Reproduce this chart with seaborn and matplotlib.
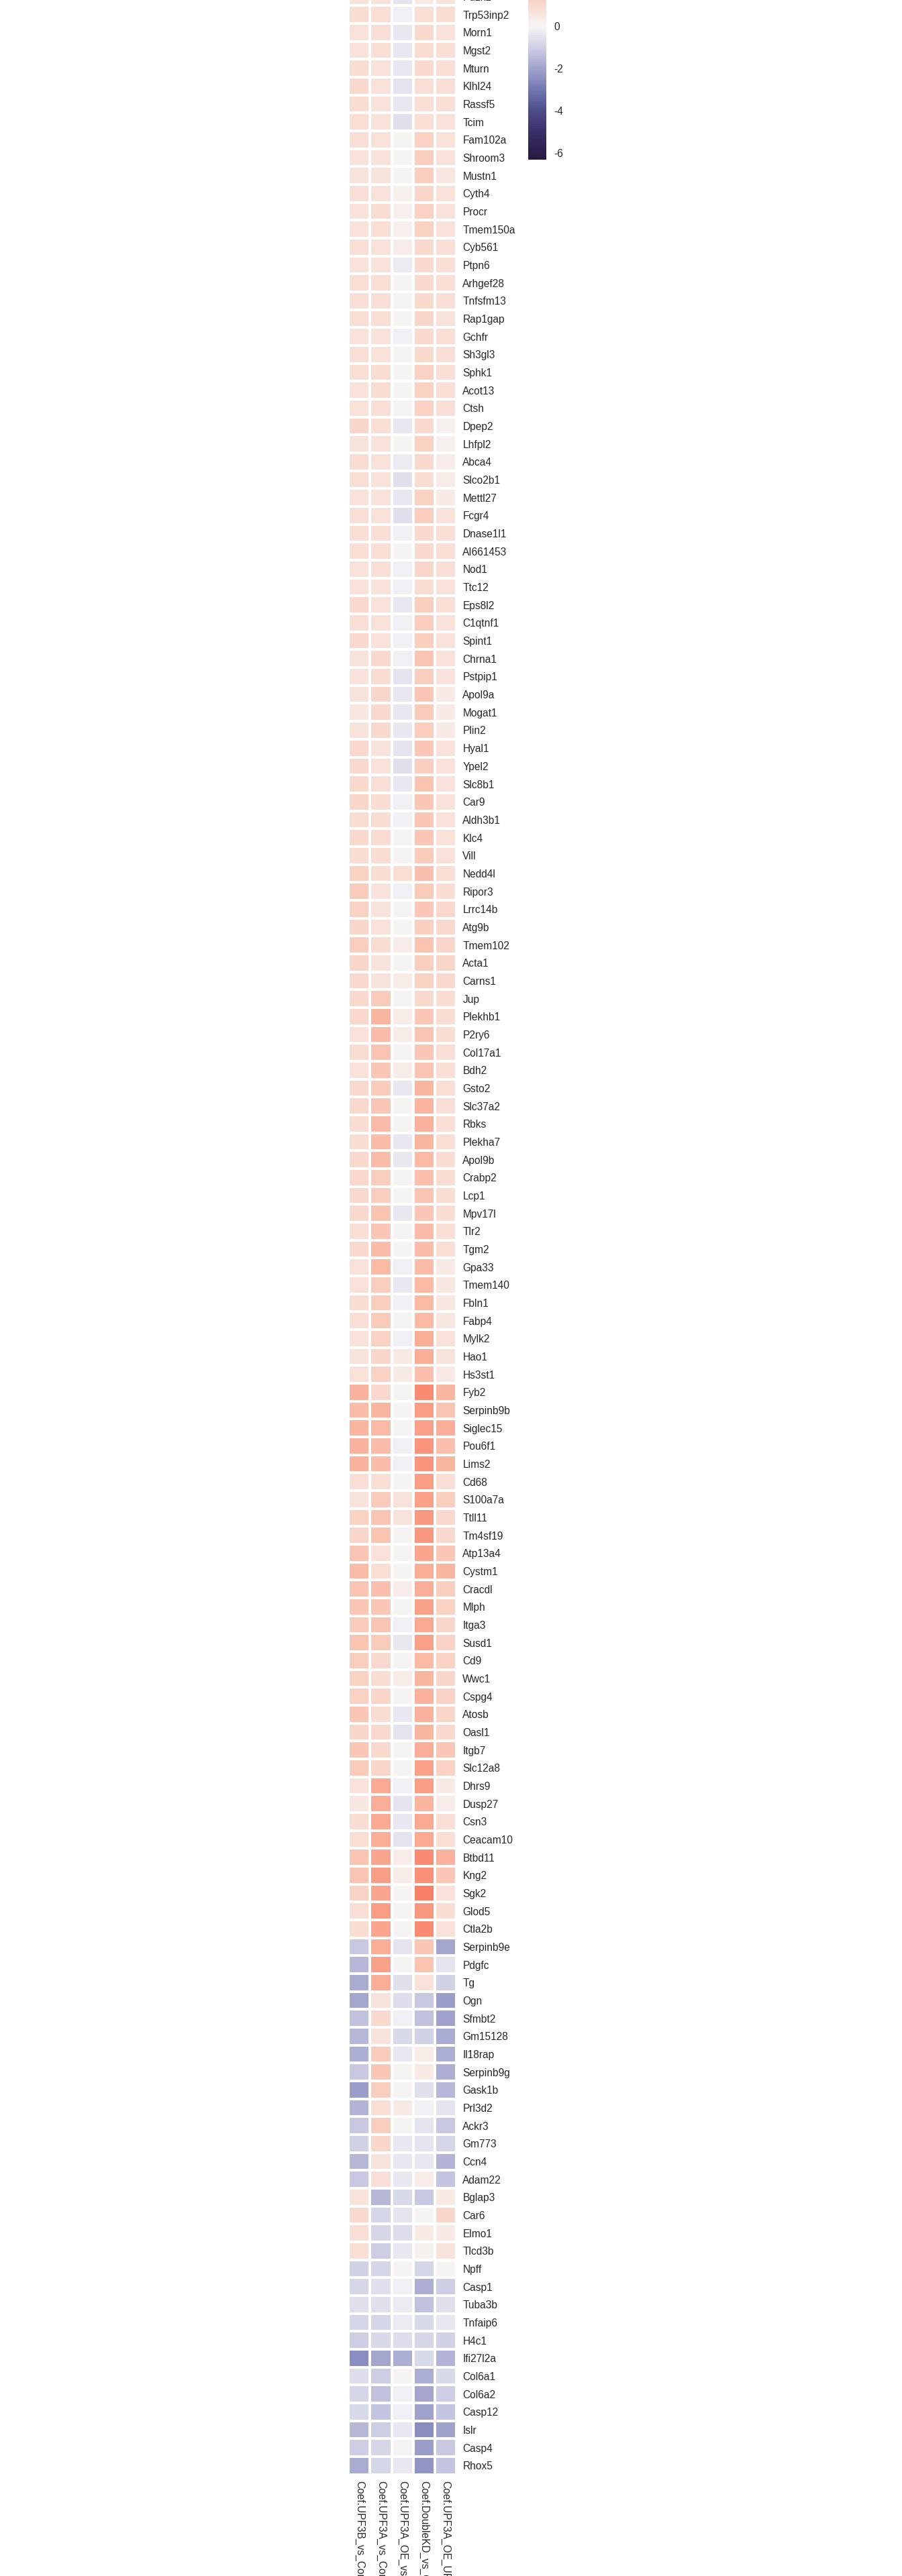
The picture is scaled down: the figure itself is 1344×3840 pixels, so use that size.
import numpy as np
import pandas as pd
import matplotlib
matplotlib.use("Agg")
import matplotlib.pyplot as plt
import seaborn as sns
from matplotlib.colors import LinearSegmentedColormap, ListedColormap

genes = [
    "Pdzk1", "Trp53inp2", "Morn1", "Mgst2", "Mturn", "Klhl24", "Rassf5", "Tcim", "Fam102a", "Shroom3",
    "Mustn1", "Cyth4", "Procr", "Tmem150a", "Cyb561", "Ptpn6", "Arhgef28", "Tnfsfm13", "Rap1gap", "Gchfr",
    "Sh3gl3", "Sphk1", "Acot13", "Ctsh", "Dpep2", "Lhfpl2", "Abca4", "Slco2b1", "Mettl27", "Fcgr4",
    "Dnase1l1", "AI661453", "Nod1", "Ttc12", "Eps8l2", "C1qtnf1", "Spint1", "Chrna1", "Pstpip1", "Apol9a",
    "Mogat1", "Plin2", "Hyal1", "Ypel2", "Slc8b1", "Car9", "Aldh3b1", "Klc4", "Vill", "Nedd4l",
    "Ripor3", "Lrrc14b", "Atg9b", "Tmem102", "Acta1", "Carns1", "Jup", "Plekhb1", "P2ry6", "Col17a1",
    "Bdh2", "Gsto2", "Slc37a2", "Rbks", "Plekha7", "Apol9b", "Crabp2", "Lcp1", "Mpv17l", "Tlr2",
    "Tgm2", "Gpa33", "Tmem140", "Fbln1", "Fabp4", "Mylk2", "Hao1", "Hs3st1", "Fyb2", "Serpinb9b",
    "Siglec15", "Pou6f1", "Lims2", "Cd68", "S100a7a", "Ttll11", "Tm4sf19", "Atp13a4", "Cystm1", "Cracdl",
    "Mlph", "Itga3", "Susd1", "Cd9", "Wwc1", "Cspg4", "Atosb", "Oasl1", "Itgb7", "Slc12a8",
    "Dhrs9", "Dusp27", "Csn3", "Ceacam10", "Btbd11", "Kng2", "Sgk2", "Glod5", "Ctla2b", "Serpinb9e",
    "Pdgfc", "Tg", "Ogn", "Sfmbt2", "Gm15128", "Il18rap", "Serpinb9g", "Gask1b", "Prl3d2", "Ackr3",
    "Gm773", "Ccn4", "Adam22", "Bglap3", "Car6", "Elmo1", "Tlcd3b", "Npff", "Casp1", "Tuba3b",
    "Tnfaip6", "H4c1", "Ifi27l2a", "Col6a1", "Col6a2", "Casp12", "Islr", "Casp4", "Rhox5",
]

conditions = [
    "Coef.UPF3B_vs_Control",
    "Coef.UPF3A_vs_Control",
    "Coef.UPF3A_OE_vs_Control",
    "Coef.DoubleKD_vs_Control",
    "Coef.UPF3A_OE_UPF3B_KD_vs_Control",
]

upf3b_vs_ctrl = [
    0.7, 0.9, 0.7, 0.7, 0.9, 1.0, 0.9, 0.8, 0.8, 0.7,
    0.6, 0.8, 0.7, 0.7, 0.8, 0.7, 0.8, 0.8, 0.8, 0.7,
    0.8, 0.8, 0.7, 0.7, 1.1, 0.6, 0.9, 0.8, 0.7, 0.8,
    0.8, 0.8, 0.7, 0.7, 1.0, 0.8, 1.0, 0.6, 0.6, 0.6,
    0.5, 0.6, 1.0, 1.0, 1.0, 1.1, 0.9, 1.0, 0.9, 1.2,
    1.4, 1.2, 1.1, 1.3, 1.1, 1.0, 1.0, 1.0, 0.7, 0.9,
    0.7, 1.0, 1.0, 0.9, 0.9, 1.0, 1.0, 1.0, 1.0, 0.8,
    1.0, 0.7, 0.7, 0.9, 0.8, 0.7, 0.6, 0.7, 2.1, 1.8,
    2.0, 2.1, 2.1, 0.8, 0.6, 1.2, 1.1, 1.6, 1.8, 1.6,
    1.5, 1.4, 1.6, 1.3, 1.2, 1.2, 1.5, 1.1, 1.5, 1.4,
    0.7, 0.5, 0.9, 0.8, 1.6, 1.6, 1.2, 0.8, 0.9, -1.2,
    -1.5, -1.8, -1.9, -1.4, -1.5, -1.7, -1.2, -2.1, -1.6, -1.2,
    -1.0, -1.5, -1.2, 0.6, 1.0, 0.8, 0.8, -1.0, -0.9, -0.6,
    -0.9, -1.1, -2.5, -0.7, -0.9, -0.8, -1.5, -1.1, -1.8,
]

upf3a_vs_ctrl = [
    0.7, 0.8, 0.8, 0.8, 0.7, 0.7, 0.7, 0.7, 0.7, 0.7,
    0.6, 0.7, 0.9, 0.8, 0.7, 0.7, 0.8, 0.8, 0.8, 0.7,
    0.7, 0.9, 0.9, 0.8, 0.8, 0.7, 0.7, 0.7, 0.7, 0.7,
    0.8, 0.8, 0.8, 0.7, 0.7, 0.7, 0.7, 1.0, 0.9, 1.1,
    1.0, 1.0, 0.6, 0.7, 0.8, 0.9, 0.9, 0.9, 0.9, 0.9,
    0.6, 0.6, 0.7, 0.9, 0.6, 0.6, 1.4, 2.0, 1.8, 1.6,
    1.5, 1.4, 1.5, 1.8, 1.8, 1.8, 1.3, 1.3, 1.6, 1.5,
    1.8, 1.9, 1.3, 1.3, 1.4, 1.2, 1.1, 1.2, 1.0, 2.0,
    1.9, 1.8, 1.8, 0.8, 1.4, 1.6, 1.6, 0.7, 0.8, 1.7,
    1.5, 1.6, 1.4, 1.0, 0.9, 1.1, 0.9, 1.0, 1.0, 1.1,
    2.3, 2.2, 2.3, 2.2, 2.4, 2.6, 2.4, 2.6, 2.4, 2.2,
    2.5, 2.2, 0.6, 1.0, 0.6, 1.4, 1.5, 1.3, 0.8, 1.3,
    1.1, 0.6, 0.8, -1.5, -0.9, -0.9, -1.1, -0.9, -0.6, -0.6,
    -0.9, -0.8, -1.9, -1.1, -1.4, -1.3, -1.1, -0.9, -0.9,
]

upf3a_oe_vs_ctrl = [
    -0.5, -0.2, -0.4, -0.4, -0.4, -0.5, -0.4, -0.6, 0.0, 0.0,
    0.0, 0.2, 0.2, 0.2, 0.3, -0.3, 0.0, 0.0, 0.0, -0.2,
    0.0, 0.0, 0.0, 0.0, -0.4, 0.0, -0.3, -0.6, -0.4, -0.6,
    -0.2, 0.0, -0.2, -0.2, -0.4, -0.2, -0.2, -0.2, -0.5, -0.4,
    -0.4, -0.4, -0.5, -0.6, -0.4, -0.2, -0.2, 0.0, 0.0, 0.8,
    -0.2, 0.0, 0.0, 0.3, 0.0, 0.3, 0.0, 0.3, 0.3, 0.0,
    0.3, -0.4, 0.0, 0.0, -0.4, -0.4, 0.0, 0.0, -0.4, 0.0,
    0.0, -0.2, -0.4, -0.2, 0.0, -0.2, 0.4, 0.4, 0.0, 0.0,
    0.0, -0.2, -0.2, 0.0, 0.6, 0.6, 0.0, 0.0, 0.0, 0.3,
    0.0, -0.2, -0.4, 0.0, 0.3, 0.0, -0.4, -0.5, 0.0, 0.0,
    -0.2, -0.5, -0.4, -0.5, 0.3, 0.3, 0.0, 0.0, 0.0, -0.5,
    0.0, -0.6, -0.7, -0.2, -0.8, -0.4, 0.0, 0.0, 0.4, 0.0,
    -0.4, -0.4, -0.4, -0.8, -0.5, -0.7, -0.4, 0.0, -0.2, -0.3,
    -0.3, -0.7, -1.7, 0.0, -0.2, -0.2, -0.4, -0.1, -0.4,
]

doublekd_vs_ctrl = [
    0.4, 0.8, 1.0, 0.9, 1.0, 0.8, 0.8, 0.8, 1.2, 1.3,
    1.3, 1.1, 1.2, 1.2, 1.0, 1.0, 1.0, 1.0, 1.1, 1.0,
    1.0, 1.2, 1.2, 1.2, 1.0, 1.2, 1.0, 0.9, 1.2, 1.3,
    1.0, 1.0, 1.1, 0.9, 1.3, 1.3, 1.3, 1.6, 1.3, 1.5,
    1.4, 1.3, 1.5, 1.3, 1.6, 1.5, 1.5, 1.5, 1.4, 1.7,
    1.4, 1.5, 1.3, 1.6, 1.3, 1.2, 1.0, 1.5, 1.6, 1.5,
    1.6, 2.0, 2.0, 2.1, 2.0, 1.9, 1.7, 1.6, 1.5, 1.8,
    1.8, 1.8, 1.9, 1.9, 1.9, 2.2, 2.2, 1.7, 3.0, 2.6,
    2.5, 2.8, 2.8, 2.6, 2.5, 2.7, 2.7, 2.4, 2.2, 2.2,
    2.5, 2.3, 2.5, 1.9, 2.0, 2.1, 2.1, 2.0, 2.2, 2.5,
    2.6, 2.0, 2.3, 2.3, 3.0, 2.9, 3.2, 2.7, 3.0, 1.5,
    1.6, 0.7, -1.2, -1.4, -1.0, 0.3, 0.4, -0.6, -0.2, -0.5,
    -0.5, -0.4, 0.3, -1.2, 0.0, 0.4, 0.1, -0.9, -1.7, -1.4,
    -0.8, -0.9, -0.8, -1.7, -1.9, -2.0, -2.5, -2.1, -2.3,
]

upf3a_oe_upf3b_kd_vs_ctrl = [
    0.6, 0.9, 0.7, 0.8, 0.8, 0.8, 0.8, 0.7, 0.7, 0.7,
    0.5, 0.7, 0.7, 0.7, 0.8, 0.8, 0.8, 0.8, 0.6, 0.8,
    0.8, 0.8, 0.8, 0.8, 0.1, 0.1, 0.3, 0.3, 0.4, 0.6,
    0.8, 0.8, 0.8, 0.7, 0.8, 0.7, 0.7, 0.7, 0.6, 0.4,
    0.4, 0.4, 0.7, 0.7, 0.6, 0.7, 0.7, 0.7, 0.7, 0.8,
    0.9, 1.0, 1.0, 1.1, 1.1, 1.0, 0.9, 0.9, 0.9, 0.8,
    0.8, 0.8, 0.8, 0.8, 0.8, 0.9, 0.9, 0.9, 0.9, 0.8,
    0.8, 0.4, 0.5, 0.5, 0.5, 0.7, 0.6, 0.4, 2.0, 1.6,
    2.2, 1.7, 2.0, 0.8, 1.3, 1.0, 1.0, 1.5, 2.0, 1.3,
    1.2, 1.1, 1.2, 1.2, 1.1, 1.2, 1.1, 1.0, 1.5, 1.2,
    0.4, 0.3, 0.8, 0.8, 2.1, 1.5, 0.7, 0.9, 0.7, -1.9,
    -0.5, -1.0, -2.1, -2.0, -1.8, -1.7, -1.7, -1.5, -0.5, -1.2,
    -0.9, -1.6, -1.3, 0.4, 1.1, 0.4, 0.6, 0.0, -1.1, -0.6,
    -0.4, -1.0, -1.6, -0.8, -1.1, -1.3, -2.0, -1.2, -1.3,
]

colorbar_ticks = [-6, -4, -2, 0]

df = pd.DataFrame(
    {
        conditions[0]: upf3b_vs_ctrl,
        conditions[1]: upf3a_vs_ctrl,
        conditions[2]: upf3a_oe_vs_ctrl,
        conditions[3]: doublekd_vs_ctrl,
        conditions[4]: upf3a_oe_upf3b_kd_vs_ctrl,
    },
    index=genes,
)[conditions]

sns.set_theme(style="white")
plt.rcParams["font.family"] = ["Liberation Sans", "DejaVu Sans"]
plt.rcParams["axes.unicode_minus"] = False

W, H = 1344, 3840
fig = plt.figure(figsize=(W / 100, H / 100), dpi=100)
ax_top, ax_bot = -18.3, 3688.8
ax = fig.add_axes([519.3 / W, (H - ax_bot) / H, 160.5 / W, (ax_bot - ax_top) / H])
cb_bot, cb_len = 237.7, 309.7
cax = fig.add_axes([786.7 / W, (H - cb_bot) / H, 27.3 / W, cb_len / H])

vmin, vmax = -6.3, 3.5
stop_vals = [-6.3, -5.0, -4.0, -3.0, -2.0, -1.0, 0.0, 1.0, 2.0, 3.0, 3.5]
stop_cols = ["#2A1843", "#3A3068", "#4E4D8B", "#7478B3", "#A2A4CD", "#CFD0E5",
             "#F6F5F5", "#F9DACF", "#FAB7A1", "#F98D74", "#F47659"]
pos = [(v - vmin) / (vmax - vmin) for v in stop_vals]
base = LinearSegmentedColormap.from_list("custom", list(zip(pos, stop_cols)))
cmap = ListedColormap(base(np.linspace(0, 1, 100)))

sns.heatmap(df, ax=ax, cmap=cmap, vmin=vmin, vmax=vmax, linewidths=1.6,
            linecolor="white", cbar_ax=cax, xticklabels=True, yticklabels=True)

ax.set_xlabel("")
ax.set_ylabel("")
ax.yaxis.tick_right()
ax.tick_params(axis="y", length=0, pad=6.9, labelsize=11.2)
plt.setp(ax.get_yticklabels(), rotation=0, ha="left")
ax.tick_params(axis="x", length=0, pad=6.5, labelsize=11.2)
plt.setp(ax.get_xticklabels(), rotation=270, ha="center", va="top")

cbar = ax.collections[0].colorbar
cbar.outline.set_visible(False)
cbar.set_ticks(colorbar_ticks)
cbar.set_ticklabels([str(t) for t in colorbar_ticks])
cax.tick_params(length=0, pad=8, labelsize=11.2)

fig.savefig("out.png", dpi=100)
